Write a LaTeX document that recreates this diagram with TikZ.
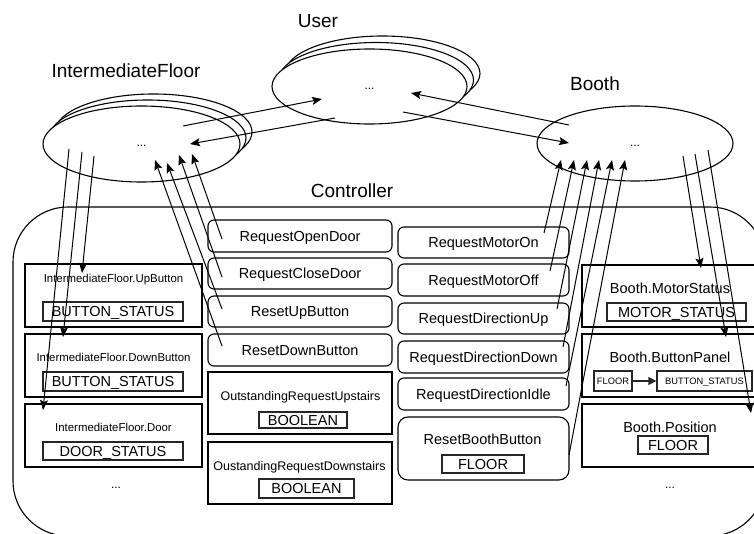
\documentclass[tikz,border=0pt]{standalone}
\usepackage{fontspec}
\setmainfont{Liberation Sans}
\usetikzlibrary{shapes.geometric,arrows.meta}
\tikzset{
  big/.style={font=\fontsize{19}{23}\selectfont, text height=13.6pt, text depth=0pt, inner sep=0pt},
  mid/.style={font=\fontsize{14.5}{17}\selectfont, text height=10.4pt, text depth=0pt, inner sep=0pt},
  sml/.style={font=\fontsize{11.4}{14}\selectfont, text height=8.2pt, text depth=0pt, inner sep=0pt},
  osl/.style={font=\fontsize{12.5}{15}\selectfont, text height=9pt, text depth=0pt, inner sep=0pt},
  tiny/.style={font=\fontsize{9.3}{11}\selectfont, text height=6.7pt, text depth=0pt, inner sep=0pt},
  dots/.style={font=\fontsize{12}{14}\selectfont, text height=6pt, text depth=0pt, inner sep=0pt},
  ell/.style={ellipse, draw, fill=white, inner sep=0pt, line width=1.1pt},
  box/.style={draw, rectangle, inner sep=0pt, line width=1.1pt, fill=white},
  rbox/.style={box, rounded corners=6pt},
  ibox/.style={draw=black!85, rectangle, inner sep=0pt, line width=1.3pt, fill=white},
  arr/.style={-{Stealth[length=10pt,width=8pt,inset=2pt]}, line width=1pt},
  ln/.style={line width=1pt}
}
\begin{document}
\begin{tikzpicture}[x=1pt,y=-1pt]
\useasboundingbox (0,0) rectangle (754,534);
% titles
\node[big] (tuser) at (318,21) {User};
\node[big] (tif) at (126,71) {IntermediateFloor};
\node[big] (tbooth) at (595,84) {Booth};
\node[big] (tctrl) at (352,191) {Controller};
% controller
\draw[line width=1.1pt, rounded corners=55pt] (13,207) rectangle (765,536);
% left column
\node[box, minimum width=177pt, minimum height=63pt] (upb) at (113.5,295.5) {};
\node[sml] (upbl) at (113.5,278.7) {IntermediateFloor.UpButton};
\node[ibox, minimum width=140pt, minimum height=19pt] (upbt) at (113,311.5) {};
\node[mid] at (upbt.center) {BUTTON\_STATUS};
\node[box, minimum width=177pt, minimum height=63pt] (dnb) at (113.5,365.5) {};
\node[sml] (dnbl) at (113.5,357) {IntermediateFloor.DownButton};
\node[ibox, minimum width=140pt, minimum height=19pt] (dnbt) at (113,381.5) {};
\node[mid] at (dnbt.center) {BUTTON\_STATUS};
\node[box, minimum width=177pt, minimum height=63pt] (door) at (113.5,435.5) {};
\node[sml] (doorl) at (113.5,427) {IntermediateFloor.Door};
\node[ibox, minimum width=140pt, minimum height=18pt] (doort) at (113,451) {};
\node[mid] at (doort.center) {DOOR\_STATUS};
\node[dots] (ldots) at (116,485) {...};
% middle-left column
\node[rbox, minimum width=184pt, minimum height=32pt] (rod) at (300,236) {};
\node[mid] at (rod.center) {RequestOpenDoor};
\node[rbox, minimum width=184pt, minimum height=31pt] (rcd) at (300,273.5) {};
\node[mid] at (rcd.center) {RequestCloseDoor};
\node[rbox, minimum width=184pt, minimum height=31pt] (rub) at (300,311.5) {};
\node[mid] at (rub.center) {ResetUpButton};
\node[rbox, minimum width=184pt, minimum height=32pt] (rdb) at (300,350) {};
\node[mid] at (rdb.center) {ResetDownButton};
\node[box, minimum width=184pt, minimum height=62pt] (ors) at (300,403) {};
\node[osl] at (300.5,395.5) {OutstandingRequestUpstairs};
\node[ibox, minimum width=88pt, minimum height=16pt] (orst) at (303,420) {};
\node[mid] at (orst.center) {BOOLEAN};
\node[box, minimum width=184pt, minimum height=62pt] (ord) at (300,473) {};
\node[osl] at (299.5,466) {OustandingRequestDownstairs};
\node[ibox, minimum width=95pt, minimum height=19pt] (ordt) at (306.5,488.5) {};
\node[mid] at (ordt.center) {BOOLEAN};
% middle-right column
\node[rbox, minimum width=171pt, minimum height=31pt] (mon) at (483.5,242.5) {};
\node[mid] at (mon.center) {RequestMotorOn};
\node[rbox, minimum width=171pt, minimum height=32pt] (moff) at (483.5,280) {};
\node[mid] at (moff.center) {RequestMotorOff};
\node[rbox, minimum width=171pt, minimum height=31pt] (dup) at (483.5,318.5) {};
\node[mid] at (dup.center) {RequestDirectionUp};
\node[rbox, minimum width=171pt, minimum height=32pt] (ddn) at (483.5,357) {};
\node[mid] at (ddn.center) {RequestDirectionDown};
\node[rbox, minimum width=171pt, minimum height=32pt] (didle) at (483.5,394) {};
\node[mid] at (didle.center) {RequestDirectionIdle};
\node[box, rounded corners=10pt, minimum width=171pt, minimum height=63pt] (rbb) at (483.5,448.5) {};
\node[mid] at (482.5,439.7) {ResetBoothButton};
\node[ibox, minimum width=82pt, minimum height=18pt] (rbbt) at (483,464) {};
\node[mid] at (rbbt.center) {FLOOR};
% right column
\node[box, minimum width=176pt, minimum height=62pt] (ms) at (670,296) {};
\node[mid] at (670,288) {Booth.MotorStatus};
\node[ibox, minimum width=139pt, minimum height=18pt] (mst) at (676.5,312) {};
\node[mid] at (mst.center) {MOTOR\_STATUS};
\node[box, minimum width=176pt, minimum height=63pt] (bp) at (670,365.5) {};
\node[mid] at (670,357) {Booth.ButtonPanel};
\node[ibox, minimum width=38pt, minimum height=20pt] (bpf) at (613,381) {};
\node[tiny] at (bpf.center) {FLOOR};
\node[ibox, minimum width=95pt, minimum height=20pt] (bps) at (704.5,381) {};
\node[tiny] at (bps.center) {BUTTON\_STATUS};
\draw[-{Triangle[length=8pt,width=8pt]}, line width=1.3pt, draw=black!85, fill=black] (bpf) -- (bps);
\node[box, minimum width=176pt, minimum height=63pt] (pos) at (670,435.5) {};
\node[mid] at (670,427.5) {Booth.Position};
\node[ibox, minimum width=70pt, minimum height=18pt] (post) at (673,445) {};
\node[mid] at (post.center) {FLOOR};
\node[dots] (rdots) at (670,485) {...};
% ellipses
\node[ell, minimum width=197pt, minimum height=76pt] (ifl3) at (153.5,132) {};
\node[ell, minimum width=197pt, minimum height=76pt] (ifl2) at (147.5,138) {};
\node[ell, minimum width=197pt, minimum height=76pt] (ifl) at (141.5,144) {};
\node[dots] at (ifl.center) {...};
\node[ell, minimum width=195pt, minimum height=75pt] (user3) at (382.5,73.5) {};
\node[ell, minimum width=195pt, minimum height=75pt] (user2) at (376,80) {};
\node[ell, minimum width=195pt, minimum height=75pt] (user) at (369.5,86.5) {};
\node[dots] at (user.center) {...};
\node[ell, minimum width=196pt, minimum height=75pt] (booth) at (635,143.5) {};
\node[dots] at (booth.center) {...};
% ellipse <-> ellipse
\draw[arr] ([shift={(41.5,-18)}]ifl.center) -- ([shift={(-47.5,12.5)}]user.center);
\draw[arr] ([shift={(-34.5,31.5)}]user.center) -- ([shift={(48.5,0)}]ifl.center);
\draw[arr] ([shift={(-66,-18.5)}]booth.center) -- ([shift={(41.5,6.5)}]user.center);
\draw[arr] ([shift={(33.5,25.5)}]user.center) -- ([shift={(-66,-0.5)}]booth.center);
% IF -> left boxes
\draw[arr] ([shift={(-47.5,12)}]ifl.center) -- ([shift={(-31.5,-22.5)}]upb.center);
\draw[arr] ([shift={(-59.5,8)}]ifl.center) -- ([shift={(-50.5,-28.5)}]dnb.center);
\draw[arr] ([shift={(-72.5,5)}]ifl.center) -- ([shift={(-70.5,-25.5)}]door.center);
% middle-left boxes -> IF
\draw[arr] ([shift={(-78,3)}]rod.center) -- ([shift={(50.5,10)}]ifl.center);
\draw[arr] ([shift={(-78,3.5)}]rcd.center) -- ([shift={(37.5,11)}]ifl.center);
\draw[arr] ([shift={(-78,-2.5)}]rub.center) -- ([shift={(25.5,19)}]ifl.center);
\draw[arr] ([shift={(-78,-4)}]rdb.center) -- ([shift={(13.5,16)}]ifl.center);
% middle-right boxes -> Booth
\draw[arr] ([shift={(60.5,-9.5)}]mon.center) -- ([shift={(-74,16.5)}]booth.center);
\draw[arr] ([shift={(66.5,-9)}]moff.center) -- ([shift={(-61,16.5)}]booth.center);
\draw[arr] ([shift={(73.5,-9.5)}]dup.center) -- ([shift={(-48,16.5)}]booth.center);
\draw[arr] ([shift={(79.5,-10)}]ddn.center) -- ([shift={(-36,16.5)}]booth.center);
\draw[arr] ([shift={(82.5,-8)}]didle.center) -- ([shift={(-23,16.5)}]booth.center);
\draw[arr] ([shift={(85.5,6.5)}]rbb.center) -- ([shift={(-10,16.5)}]booth.center);
% Booth -> right boxes
\draw[arr] ([shift={(48,12.5)}]booth.center) -- ([shift={(31,-28)}]ms.center);
\draw[arr] ([shift={(60,10.5)}]booth.center) -- ([shift={(56,-28.5)}]bp.center);
\draw[arr] ([shift={(73,6.5)}]booth.center) -- ([shift={(81,-22.5)}]pos.center);
\end{tikzpicture}
\end{document}
